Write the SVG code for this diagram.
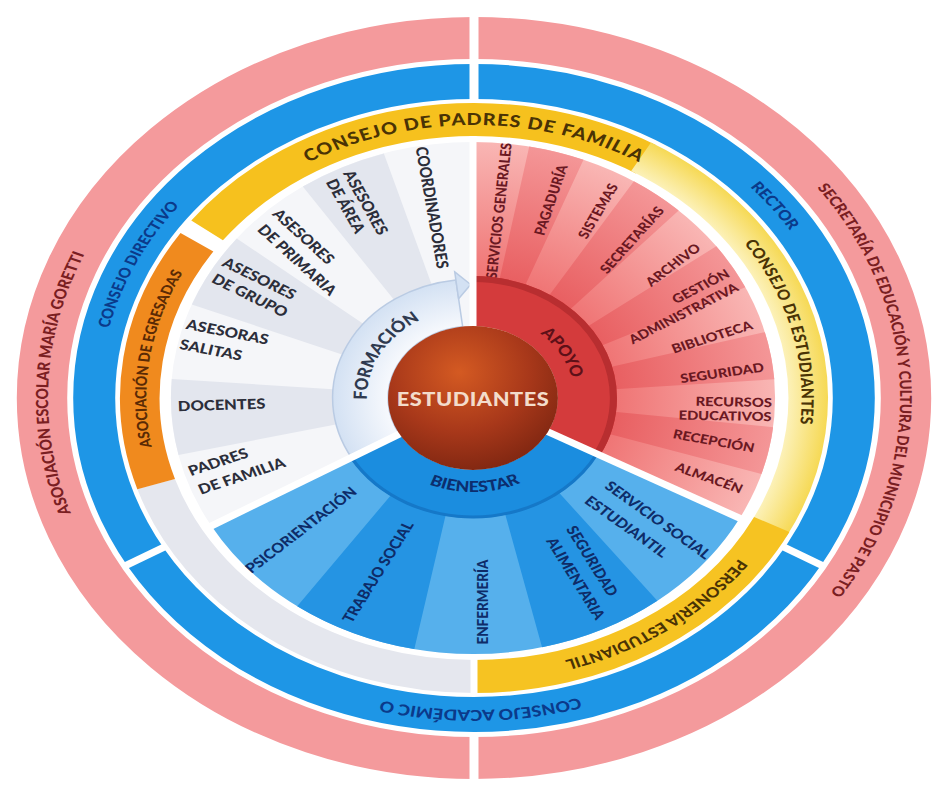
<svg xmlns="http://www.w3.org/2000/svg" width="932" height="785" viewBox="0 0 932 785">
<style>
text{font-family:Lato,"Open Sans","Liberation Sans",sans-serif;font-weight:900}
.arc{fill:none}
.sep{stroke:#fff;stroke-width:7;vector-effect:non-scaling-stroke}
.f{fill:#2C2E3A;font-size:14px;text-anchor:middle}
.a{fill:#6A1822;font-size:12.5px;text-anchor:middle}
.b{fill:#0E2C68;font-size:13.5px;text-anchor:middle}
.rt{text-anchor:middle}
.ry{fill:#4A3305}
.rb{fill:#0B3A8A}
.rp{fill:#7A1E22}
</style>
<defs>
<radialGradient id="gCenter" cx="0.42" cy="0.32" r="0.75">
<stop offset="0" stop-color="#D45A22"/><stop offset="0.55" stop-color="#A8381A"/><stop offset="1" stop-color="#7A2410"/>
</radialGradient>
<radialGradient id="gApL" gradientUnits="userSpaceOnUse" cx="0" cy="0" r="256">
<stop offset="0.45" stop-color="#EF7272"/><stop offset="1" stop-color="#F9B6B4"/>
</radialGradient>
<radialGradient id="gApD" gradientUnits="userSpaceOnUse" cx="0" cy="0" r="256">
<stop offset="0.45" stop-color="#E85D5F"/><stop offset="1" stop-color="#F49697"/>
</radialGradient>
<radialGradient id="gForm" gradientUnits="userSpaceOnUse" cx="0" cy="0" r="119">
<stop offset="0.6" stop-color="#F7F9FD"/><stop offset="1" stop-color="#D3E1F3"/>
</radialGradient>
<radialGradient id="gYel" gradientUnits="userSpaceOnUse" cx="0" cy="0" r="295">
<stop offset="0.888" stop-color="#FCF1B8"/><stop offset="1" stop-color="#F6D955"/>
</radialGradient>
<path id="tpPadres" d="M -273 0 A 273 273 0 0 1 273 0"/>
<path id="tpEstud" d="M 73.0 -263.1 A 273 273 0 0 1 191.3 194.7"/>
<path id="tpPerson" d="M 273 0 A 273 273 0 0 1 -93.4 256.5"/>
<path id="tpEgres" d="M -232.8 142.6 A 273 273 0 0 1 -180.9 -204.5"/>
<path id="tpAcad" d="M 272.9 151.3 A 312 312 0 0 1 -267.4 160.7"/>
<path id="tpRector" d="M 119.4 -288.3 A 312 312 0 0 1 309.3 -40.7"/>
<path id="tpDirect" d="M -302.1 78.1 A 312 312 0 0 1 -129.4 -283.9"/>
<path id="tpGoretti" d="M -190.7 299.4 A 355 355 0 0 1 -163.9 -314.9"/>
<path id="tpSecret" d="M 169.4 -312.0 A 355 355 0 0 1 185.5 302.7"/>
<path id="tpForm" d="M -77.5 45.7 A 90 90 0 0 1 -0.8 -90"/>
<path id="tpApoyo" d="M -1.5 -86.0 A 86 86 0 0 1 75.2 41.7"/>
<path id="tpBien" d="M -80.6 48.4 A 94 94 0 0 0 82.2 45.6"/>
</defs>
<rect width="932" height="785" fill="#fff"/>

<g transform="translate(474,398) scale(1.2,1)">
<g id="ring-pink">
<circle class="arc" r="360" stroke="#F49A9C" stroke-width="42"/>
<text class="rt rp" font-size="14"><textPath href="#tpGoretti" startOffset="50%">ASOCIACIÓN ESCOLAR MARÍA GORETTI</textPath></text>
<text class="rt rp" font-size="13.5"><textPath href="#tpSecret" startOffset="50%">SECRETARÍA DE EDUCACIÓN Y CULTURA DEL MUNICIPIO DE PASTO</textPath></text>
</g>

<g id="ring-blue">
<circle class="arc" r="316.5" stroke="#1E96E6" stroke-width="35"/>
<text class="rt rb" font-size="13.5"><textPath href="#tpDirect" startOffset="50%">CONSEJO DIRECTIVO</textPath></text>
<text class="rt rb" font-size="14"><textPath href="#tpRector" startOffset="50%">RECTOR</textPath></text>
<text class="rt rb" font-size="15"><textPath href="#tpAcad" startOffset="50%">CONSEJO ACADÉMIC O</textPath></text>
</g>

<g id="ring-consejos">
<circle class="arc" r="278.5" stroke="#E5E7EE" stroke-width="33" pathLength="360" stroke-dasharray="72 400" transform="rotate(90)"/>
<circle class="arc" r="278.5" stroke="#F08A1E" stroke-width="33" pathLength="360" stroke-dasharray="52 400" transform="rotate(162)"/>
<circle class="arc" r="278.5" stroke="#F6C11E" stroke-width="33" pathLength="360" stroke-dasharray="84 400" transform="rotate(217)"/>
<circle class="arc" r="278.5" stroke="url(#gYel)" stroke-width="33" pathLength="360" stroke-dasharray="88 400" transform="rotate(300)"/>
<circle class="arc" r="278.5" stroke="#F6C322" stroke-width="33" pathLength="360" stroke-dasharray="63 400" transform="rotate(27)"/>
<text class="rt" fill="#5A2A05" font-size="13"><textPath href="#tpEgres" startOffset="50%">ASOCIACIÓN DE EGRESADAS</textPath></text>
<text class="rt ry" font-size="16.5" letter-spacing="0.9"><textPath href="#tpPadres" startOffset="50%">CONSEJO DE PADRES DE FAMILIA</textPath></text>
<text class="rt ry" font-size="14" letter-spacing="0.3"><textPath href="#tpEstud" startOffset="50%">CONSEJO DE ESTUDIANTES</textPath></text>
<text class="rt ry" font-size="14"><textPath href="#tpPerson" startOffset="50%">PERSONERÍA ESTUDIANTIL</textPath></text>
</g>

<g id="ring-gaps">
<line class="sep" style="stroke-width:9" x1="0" y1="-297" x2="0" y2="-386"/>
<line class="sep" style="stroke-width:9" x1="0" y1="337" x2="0" y2="386"/>
<line class="sep" x1="0" y1="259" x2="0" y2="298"/>
<line class="sep" x1="257.2" y1="148.5" x2="292.7" y2="169"/>
<line class="sep" x1="-257.2" y1="148.5" x2="-292.7" y2="169"/>
</g>
</g>

<g transform="translate(473,398) scale(1.18,1)">
<g id="sector-formacion">
<circle class="arc" r="164" stroke="#F5F6F9" stroke-width="184" pathLength="360" stroke-dasharray="120 400" transform="rotate(150)"/>
<circle class="arc" r="164" stroke="#E3E6EE" stroke-width="184" pathLength="360" stroke-dasharray="17.14 400" transform="rotate(167.14)"/>
<circle class="arc" r="164" stroke="#E3E6EE" stroke-width="184" pathLength="360" stroke-dasharray="17.14 400" transform="rotate(201.43)"/>
<circle class="arc" r="164" stroke="#E3E6EE" stroke-width="184" pathLength="360" stroke-dasharray="17.14 400" transform="rotate(235.71)"/>
<text class="f" transform="translate(-216,64) rotate(-21.4)" dy="0.35em">PADRES</text>
<text class="f" transform="translate(-196,78) rotate(-21.4)" dy="0.35em">DE FAMILIA</text>
<text class="f" transform="translate(-213,7) rotate(-2)" dy="0.35em">DOCENTES</text>
<text class="f" transform="translate(-208,-66) rotate(12.9)" dy="0.35em">ASESORAS</text>
<text class="f" transform="translate(-222,-48) rotate(12.9)" dy="0.35em">SALITAS</text>
<text class="f" transform="translate(-181,-119.5) rotate(30)" dy="0.35em">ASESORES</text>
<text class="f" transform="translate(-189,-102.5) rotate(30)" dy="0.35em">DE GRUPO</text>
<text class="f" transform="translate(-143.6,-161.5) rotate(47)" dy="0.35em">ASESORES</text>
<text class="f" transform="translate(-149,-138) rotate(47)" dy="0.35em">DE PRIMARIA</text>
<text class="f" transform="translate(-91,-195.5) rotate(64.3)" dy="0.35em">ASESORES</text>
<text class="f" transform="translate(-108,-192) rotate(64.3)" dy="0.35em">DE ÁREA</text>
<text class="f" transform="translate(-34.7,-190.5) rotate(81.4)" dy="0.35em">COORDINADORES</text>
</g>

<g id="sector-apoyo">
<circle class="arc" r="164" stroke="url(#gApL)" stroke-width="184" pathLength="360" stroke-dasharray="118 400" transform="rotate(270)"/>
<circle class="arc" r="164" stroke="url(#gApD)" stroke-width="184" pathLength="360" stroke-dasharray="10.73 400" transform="rotate(280.73)"/>
<circle class="arc" r="164" stroke="url(#gApD)" stroke-width="184" pathLength="360" stroke-dasharray="10.73 400" transform="rotate(302.18)"/>
<circle class="arc" r="164" stroke="url(#gApD)" stroke-width="184" pathLength="360" stroke-dasharray="10.73 400" transform="rotate(323.64)"/>
<circle class="arc" r="164" stroke="url(#gApD)" stroke-width="184" pathLength="360" stroke-dasharray="10.73 400" transform="rotate(345.09)"/>
<circle class="arc" r="164" stroke="url(#gApD)" stroke-width="184" pathLength="360" stroke-dasharray="10.73 400" transform="rotate(366.55)"/>
<text class="a" font-size="11" transform="translate(22,-187) rotate(-84.6)" dy="0.35em">SERVICIOS GENERALES</text>
<text class="a" transform="translate(66,-198) rotate(-73.9)" dy="0.35em">PAGADURÍA</text>
<text class="a" transform="translate(106,-187) rotate(-63.2)" dy="0.35em">SISTEMAS</text>
<text class="a" transform="translate(134.7,-158) rotate(-52.5)" dy="0.35em">SECRETARÍAS</text>
<text class="a" transform="translate(169.5,-133) rotate(-41.7)" dy="0.35em">ARCHIVO</text>
<text class="a" font-size="11" transform="translate(193,-111.5) rotate(-31)" dy="0.35em">GESTIÓN</text>
<text class="a" font-size="11" transform="translate(178.4,-84.5) rotate(-31)" dy="0.35em">ADMINISTRATIVA</text>
<text class="a" transform="translate(202.5,-61) rotate(-20.3)" dy="0.35em">BIBLIOTECA</text>
<text class="a" transform="translate(211,-25) rotate(-9.5)" dy="0.35em">SEGURIDAD</text>
<text class="a" font-size="11" transform="translate(221,4) rotate(1.2)" dy="0.35em">RECURSOS</text>
<text class="a" font-size="11" transform="translate(213.6,18) rotate(1.2)" dy="0.35em">EDUCATIVOS</text>
<text class="a" transform="translate(204,43) rotate(11.9)" dy="0.35em">RECEPCIÓN</text>
<text class="a" transform="translate(200,80) rotate(22.7)" dy="0.35em">ALMACÉN</text>
</g>

<g id="sector-bienestar">
<circle class="arc" r="164" stroke="#56B0EC" stroke-width="184" pathLength="360" stroke-dasharray="122 400" transform="rotate(28)"/>
<circle class="arc" r="164" stroke="#2594E3" stroke-width="184" pathLength="360" stroke-dasharray="24.4 400" transform="rotate(52.4)"/>
<circle class="arc" r="164" stroke="#2594E3" stroke-width="184" pathLength="360" stroke-dasharray="24.4 400" transform="rotate(101.2)"/>
<text class="b" transform="translate(156.8,122) rotate(40)" dy="0.35em">SERVICIO SOCIAL</text>
<text class="b" transform="translate(130,128.5) rotate(40)" dy="0.35em">ESTUDIANTIL</text>
<text class="b" transform="translate(101,163) rotate(62)" dy="0.35em">SEGURIDAD</text>
<text class="b" transform="translate(87,180.5) rotate(62)" dy="0.35em">ALIMENTARIA</text>
<text class="b" transform="translate(7.6,204) rotate(-90)" dy="0.35em">ENFERMERÍA</text>
<text class="b" transform="translate(-80.5,174) rotate(-62)" dy="0.35em">TRABAJO SOCIAL</text>
<text class="b" transform="translate(-145.8,132) rotate(-42)" dy="0.35em">PSICORIENTACIÓN</text>
</g>

<g id="band-formacion">
<path d="M -103.06 59.5 A 119 119 0 0 1 -14.50 -118.11 L -8.77 -71.46 A 72 72 0 0 0 -62.35 36 Z" fill="url(#gForm)" stroke="#BACBE3" stroke-width="1.5" vector-effect="non-scaling-stroke"/>
<path d="M -15.48 -126.05 L -1.98 -113.48 L -12.19 -99.26 Z" fill="#D3E1F3" stroke="#BACBE3" stroke-width="1.5" vector-effect="non-scaling-stroke"/>
<text class="rt" fill="#2F3A4F" font-size="15.5"><textPath href="#tpForm" startOffset="50%">FORMACIÓN</textPath></text>
</g>

<g id="band-apoyo">
<circle class="arc" r="97" stroke="#D43B3C" stroke-width="50" pathLength="360" stroke-dasharray="118 400" transform="rotate(270)"/>
<circle class="arc" r="119" stroke="#B82E30" stroke-width="6" pathLength="360" stroke-dasharray="118 400" transform="rotate(270)"/>
<text class="rt" fill="#5E1018" font-size="15"><textPath href="#tpApoyo" startOffset="50%">APOYO</textPath></text>
</g>

<g id="band-bienestar">
<circle class="arc" r="96" stroke="#1B8DDF" stroke-width="48" pathLength="360" stroke-dasharray="122 400" transform="rotate(28)"/>
<circle class="arc" r="119" stroke="#1578C8" stroke-width="3" pathLength="360" stroke-dasharray="122 400" transform="rotate(28)"/>
<text class="rt" fill="#0C2E6E" font-size="15"><textPath href="#tpBien" startOffset="50%">BIENESTAR</textPath></text>
</g>

<g id="connectors">
<line class="sep" x1="0" y1="-70" x2="0" y2="-262"/>
<line class="sep" x1="-60.6" y1="35" x2="-227" y2="131"/>
<line class="sep" x1="61.8" y1="32.9" x2="231.3" y2="123"/>
</g>

<g id="estudiantes">
<circle r="72" fill="url(#gCenter)"/>
<text class="rt" fill="#F3DCCB" font-size="18.5" letter-spacing="0.4" y="8">ESTUDIANTES</text>
</g>
</g>
</svg>
